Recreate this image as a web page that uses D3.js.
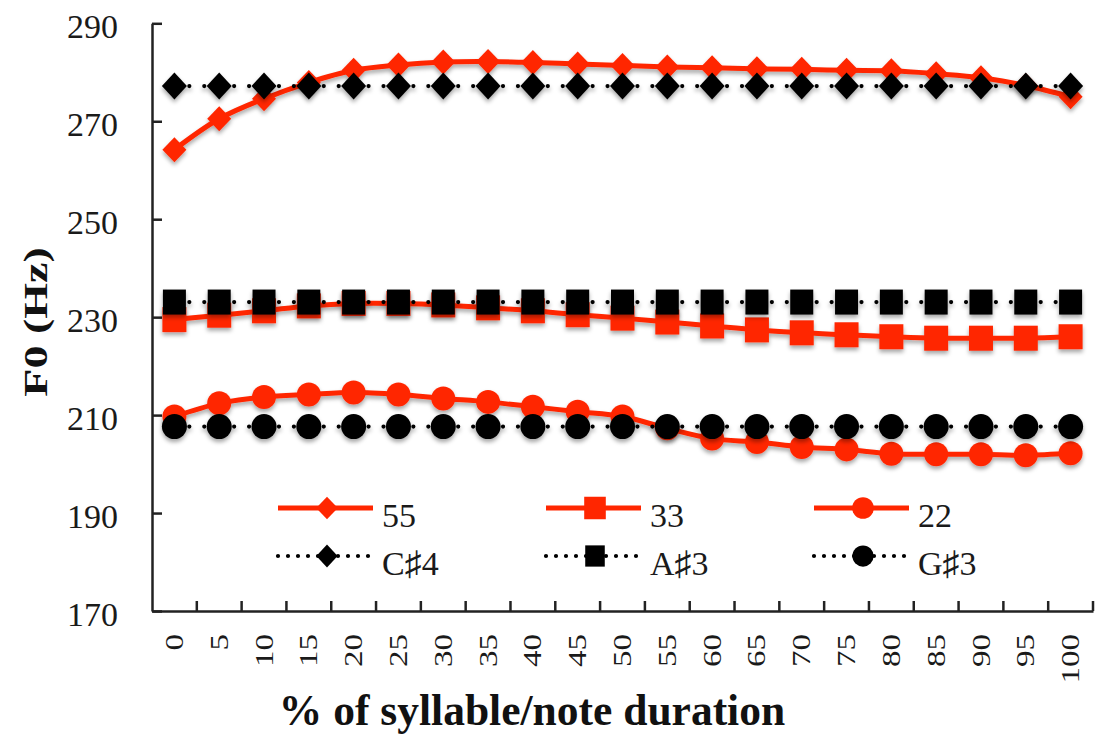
<!DOCTYPE html>
<html><head><meta charset="utf-8">
<script src="https://cdn.jsdelivr.net/npm/d3@7"></script>
<style>html,body{margin:0;padding:0;background:#fff;} svg{display:block;}</style>
</head><body>
<svg id="chart" width="1096" height="737"></svg>
<script>
// ---- data ----
const categories = ["0","5","10","15","20","25","30","35","40","45","50","55","60","65","70","75","80","85","90","95","100"];
const tone55 = [264.2,270.5,274.6,277.9,280.4,281.5,282.1,282.2,282.0,281.7,281.4,281.1,280.9,280.7,280.6,280.4,280.3,279.7,278.9,277.3,275.0];
const tone33 = [229.5,230.4,231.3,232.3,232.8,232.8,232.5,231.9,231.3,230.5,229.8,229.0,228.2,227.4,226.8,226.4,226.0,225.7,225.7,225.7,226.0];
const tone22 = [209.7,212.4,213.7,214.2,214.6,214.2,213.4,212.7,211.7,210.7,209.7,207.3,205.2,204.5,203.5,203.0,202.1,202.0,202.0,201.8,202.2];
const noteCs4 = [277.18,277.18,277.18,277.18,277.18,277.18,277.18,277.18,277.18,277.18,277.18,277.18,277.18,277.18,277.18,277.18,277.18,277.18,277.18,277.18,277.18];
const noteAs3 = [233.08,233.08,233.08,233.08,233.08,233.08,233.08,233.08,233.08,233.08,233.08,233.08,233.08,233.08,233.08,233.08,233.08,233.08,233.08,233.08,233.08];
const noteGs3 = [207.65,207.65,207.65,207.65,207.65,207.65,207.65,207.65,207.65,207.65,207.65,207.65,207.65,207.65,207.65,207.65,207.65,207.65,207.65,207.65,207.65];
const yTicks = [170,190,210,230,250,270,290];
const seriesNames = ["55","33","22","C\u266F4","A\u266F3","G\u266F3"];
const yTitle = "F0 (Hz)";
const xTitle = "% of syllable/note duration";

// ---- setup ----
const RED = "#ff2600", BLACK = "#000";
const FONT = "'Liberation Serif','Times New Roman','DejaVu Serif','DejaVu Sans',serif";
const svg = d3.select("#chart");
const x = d3.scaleBand().domain(categories).range([152, 1093]).padding(0);
const y = d3.scaleLinear().domain([170, 290]).range([611, 23.3]);
const cx = d => x(d) + x.bandwidth() / 2;

const defs = svg.append("defs");
const f = defs.append("filter").attr("id","shadow").attr("x","-20%").attr("y","-20%").attr("width","140%").attr("height","160%");
f.append("feDropShadow").attr("dx",0).attr("dy",3).attr("stdDeviation",2.2).attr("flood-color","#000").attr("flood-opacity",0.35);

const series = [
  {name: seriesNames[0], values: tone55, color: RED, dotted: false, shape: "diamond", size: [12,12.5]},
  {name: seriesNames[1], values: tone33, color: RED, dotted: false, shape: "square", size: [12,12.5]},
  {name: seriesNames[2], values: tone22, color: RED, dotted: false, shape: "circle", size: [12,12]},
  {name: seriesNames[3], values: noteCs4, color: BLACK, dotted: true, shape: "diamond", size: [12.5,13.5]},
  {name: seriesNames[4], values: noteAs3, color: BLACK, dotted: true, shape: "square", size: [11.5,12.5]},
  {name: seriesNames[5], values: noteGs3, color: BLACK, dotted: true, shape: "circle", size: [12.5,12.5]}
];

function drawMarker(g, px, py, s, color, shape) {
  const [w, h] = s;
  if (shape === "diamond") {
    g.append("path").attr("d", `M${px},${py-h}L${px+w},${py}L${px},${py+h}L${px-w},${py}Z`).attr("fill", color);
  } else if (shape === "square") {
    g.append("rect").attr("x", px-w).attr("y", py-h).attr("width", 2*w).attr("height", 2*h).attr("fill", color);
  } else {
    g.append("circle").attr("cx", px).attr("cy", py).attr("r", w).attr("fill", color);
  }
}

// ---- axes ----
const yAxis = d3.axisLeft(y).tickValues(yTicks).tickSizeInner(-10).tickSizeOuter(0).tickPadding(34).tickFormat(d3.format("d"));
const gy = svg.append("g").attr("transform","translate(152,0)").call(yAxis);
gy.select(".domain").attr("stroke","#222").attr("stroke-width",2.5);
gy.selectAll(".tick line").attr("stroke","#222").attr("stroke-width",2.5);
gy.selectAll(".tick text").attr("font-family",FONT).attr("font-size",34).attr("fill","#1a1a1a").attr("dy","0.42em");

const xAxis = d3.axisBottom(x).tickSize(0).tickSizeOuter(0);
const gx = svg.append("g").attr("transform",`translate(0,${y(170)})`).call(xAxis);
gx.select(".domain").attr("stroke","#222").attr("stroke-width",2.5);
gx.selectAll(".tick text")
  .attr("x",0).attr("y",0).attr("dy",null)
  .attr("transform","translate(0,23) rotate(-90) scale(1,0.76)")
  .attr("text-anchor","end").attr("dominant-baseline","central")
  .attr("font-family",FONT).attr("font-size",33).attr("fill","#1a1a1a");
// category boundary ticks (inside)
const bounds = d3.range(1, categories.length + 1).map(i => x.range()[0] + i * x.step());
svg.append("g").selectAll("line").data(bounds).join("line")
  .attr("x1", d => d).attr("x2", d => d)
  .attr("y1", y(170)).attr("y2", y(170) - 10)
  .attr("stroke","#222").attr("stroke-width",2.5);

// ---- series ----
const dotGap = x.step() / 3;
series.forEach(s => {
  const g = svg.append("g").attr("filter","url(#shadow)");
  const line = d3.line().x((d,i) => cx(categories[i])).y(d => y(d))
    .curve(s.dotted ? d3.curveLinear : d3.curveCatmullRom.alpha(0.5));
  const p = g.append("path").datum(s.values).attr("d", line)
    .attr("fill","none").attr("stroke", s.color);
  if (s.dotted) {
    p.attr("stroke-width",4.2).attr("stroke-dasharray",`0 ${dotGap}`).attr("stroke-linecap","round");
  } else {
    p.attr("stroke-width",5).attr("stroke-linejoin","round");
  }
  s.values.forEach((v,i) => drawMarker(g, cx(categories[i]), y(v), s.size, s.color, s.shape));
});

// ---- legend ----
const lg = svg.append("g");
series.forEach((s,i) => {
  const col = i % 3, row = Math.floor(i / 3);
  const x0 = 278 + col * 268, x1 = x0 + 95, mx = x0 + 49, ry = 508 + row * 48;
  const l = lg.append("line").attr("x1",x0).attr("x2",x1).attr("y1",ry).attr("y2",ry).attr("stroke",s.color);
  if (s.dotted) l.attr("stroke-width",4.2).attr("stroke-dasharray","0 10").attr("stroke-linecap","round");
  else l.attr("stroke-width",5);
  drawMarker(lg, mx, ry, s.dotted ? [s.size[0]*0.85, s.size[1]*0.85] : [s.size[0]*0.9, s.size[1]*0.9], s.color, s.shape);
  lg.append("text").attr("x", x1 + 9).attr("y", ry + 19)
    .attr("font-family",FONT).attr("font-size",34).attr("fill","#1a1a1a").text(s.name);
});

// ---- titles ----
svg.append("text").attr("transform","translate(36,322) rotate(-90) scale(1,0.74)")
  .attr("text-anchor","middle").attr("dominant-baseline","central")
  .attr("font-family",FONT).attr("font-weight","bold").attr("font-size",46).attr("fill","#111").text(yTitle);
svg.append("text").attr("x",532).attr("y",725).attr("text-anchor","middle")
  .attr("font-family",FONT).attr("font-weight","bold").attr("font-size",43.5).attr("fill","#111").text(xTitle);
</script>
</body></html>
